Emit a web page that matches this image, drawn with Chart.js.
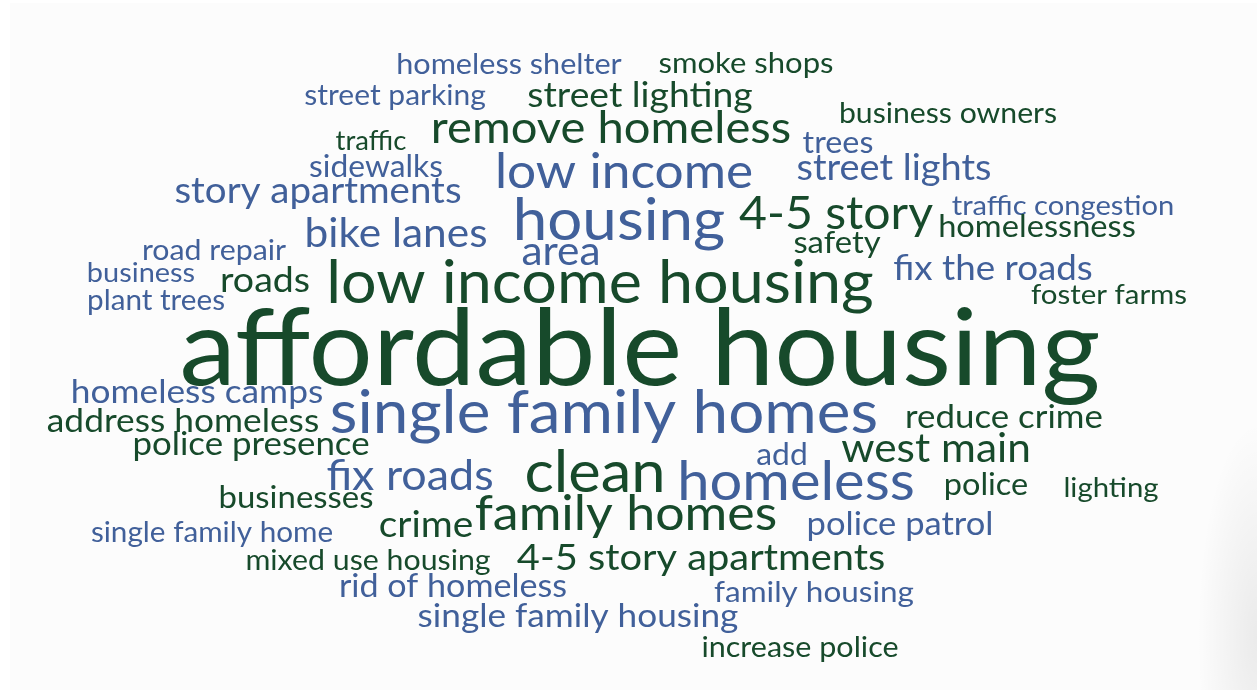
<!DOCTYPE html>
<html>
<head>
<meta charset="utf-8">
<script src="https://cdn.jsdelivr.net/npm/chart.js@4.4.1/dist/chart.umd.min.js"></script>
<style>
  html, body { margin: 0; padding: 0; background: #ffffff; }
  body { width: 1257px; height: 690px; position: relative; overflow: hidden; }
  #card { position: absolute; left: 10px; top: 3px; width: 1247px; height: 687px;
          background: #fcfcfc; }
  #shade { position: absolute; right: 0; top: 420px; width: 60px; height: 270px;
           background: radial-gradient(ellipse at 100% 80%, rgba(0,0,0,0.07), rgba(0,0,0,0) 70%); }
  #wrap { position: absolute; left: 0; top: 0; width: 1257px; height: 690px; }
</style>
</head>
<body>
<div id="card"></div>
<div id="shade"></div>
<div id="wrap"><canvas id="c" width="1257" height="690"></canvas></div>
<script>
// Words of the cloud
const words = [
  "homeless shelter", "smoke shops", "street parking", "street lighting", "business owners",
  "traffic", "remove homeless", "trees", "sidewalks", "low income",
  "street lights", "story apartments", "housing", "4-5 story", "traffic congestion",
  "bike lanes", "homelessness", "area", "safety", "road repair",
  "business", "roads", "low income housing", "fix the roads", "plant trees",
  "foster farms", "affordable housing", "homeless camps", "address homeless", "single family homes",
  "reduce crime", "police presence", "add", "west main", "fix roads",
  "clean", "homeless", "police", "lighting", "businesses",
  "crime", "family homes", "police patrol", "single family home", "mixed use housing",
  "4-5 story apartments", "rid of homeless", "family housing", "single family housing", "increase police"
];
// Word centre (horizontal) position
const posX = [
  509, 746, 395, 640, 948,
  371, 611, 838, 376, 624,
  894, 318, 619, 836, 1063,
  396, 1037, 561, 837, 214,
  141, 265, 600, 993, 156,
  1109, 640, 197, 183, 604,
  1004, 251, 782, 936, 410,
  595, 796, 986, 1111, 296,
  426, 626, 900, 212, 368,
  701, 453, 814, 578, 800
];
// Word baseline position
const posY = [
  74, 73, 105, 107, 123,
  150, 143, 153, 177, 188,
  180, 203, 240, 229, 215,
  247, 237, 265, 253, 260,
  282, 292, 303, 280, 310,
  304, 385, 403, 432, 433,
  428, 455, 465, 462, 490,
  492, 500, 495, 497, 508,
  537, 530, 535, 542, 570,
  570, 597, 602, 627, 657
];
// Relative word weight (frequency)
const weights = [
  28.9, 29.3, 28.3, 35.2, 28.5,
  26, 44.5, 30.5, 30, 48.5,
  35.8, 36.3, 58.4, 45.5, 27.5,
  40, 30.8, 40, 31, 28.6,
  27.3, 35.4, 59.3, 34.7, 28,
  27.8, 107, 33.3, 33.3, 60.2,
  32.9, 32.9, 30, 40, 42.3,
  58, 54.6, 30.7, 27.7, 31.1,
  36.7, 49, 32.6, 28, 28.6,
  37.6, 32.2, 29.7, 33.2, 28.8
];
// Colour group: 0 = green, 1 = blue
const groups = [
  1, 0, 1, 0, 0,
  0, 0, 1, 1, 1,
  1, 1, 1, 0, 1,
  1, 0, 1, 0, 1,
  1, 0, 0, 1, 1,
  0, 0, 1, 0, 1,
  0, 0, 1, 0, 1,
  0, 1, 0, 0, 0,
  0, 0, 1, 1, 0,
  0, 1, 1, 1, 0
];

const COLORS = ['#174a2b', '#41609a'];
const FONT = "Lato, 'Open Sans', sans-serif";
const STRETCH = 1.06;

const wordPlugin = {
  id: 'wordcloud',
  afterDatasetsDraw(chart) {
    const ctx = chart.ctx;
    const meta = chart.getDatasetMeta(0);
    meta.data.forEach((pt, i) => {
      ctx.save();
      ctx.textAlign = 'center';
      ctx.textBaseline = 'alphabetic';
      ctx.font = '400 ' + weights[i] + 'px ' + FONT;
      ctx.fillStyle = COLORS[groups[i]];
      ctx.translate(pt.x, pt.y);
      ctx.scale(STRETCH, 1);
      ctx.fillText(words[i], 0, 0);
      ctx.restore();
    });
  }
};

new Chart(document.getElementById('c'), {
  type: 'scatter',
  data: {
    datasets: [{
      data: words.map((w, i) => ({ x: posX[i], y: posY[i] })),
      pointRadius: 0,
      pointHoverRadius: 0
    }]
  },
  options: {
    responsive: false,
    animation: false,
    events: [],
    layout: { padding: 0 },
    plugins: { legend: { display: false }, tooltip: { enabled: false } },
    scales: {
      x: { type: 'linear', min: 0, max: 1257, display: false },
      y: { type: 'linear', min: 0, max: 690, reverse: true, display: false }
    }
  },
  plugins: [wordPlugin]
});
</script>
</body>
</html>
